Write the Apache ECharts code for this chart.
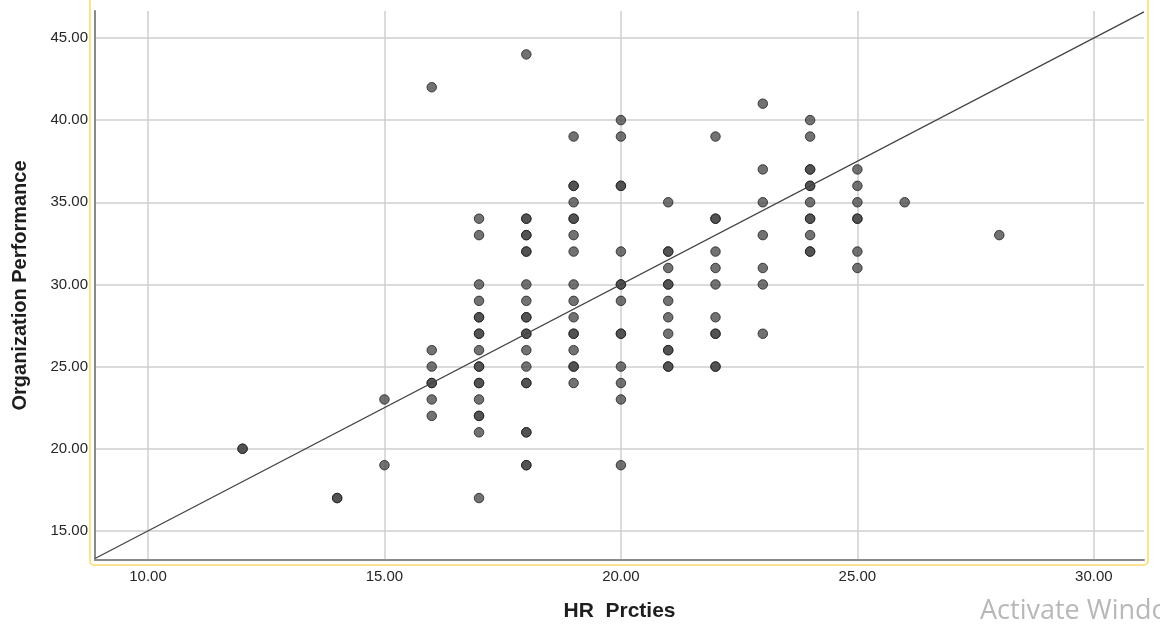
<!DOCTYPE html>
<html>
<head>
<meta charset="utf-8">
<title>Organization Performance vs HR Practices</title>
<script src="https://cdn.jsdelivr.net/npm/echarts@6/dist/echarts.min.js"></script>
<style>
  html, body { margin: 0; padding: 0; background: #fff; }
  #chart { width: 1160px; height: 625px; }
</style>
</head>
<body>
<div id="chart"></div>
<script>
// HR practices score (x) and the organization performance scores observed at it
const hrPractices = [12, 14, 15, 16, 17, 18, 19, 20, 21, 22, 23, 24, 25, 26, 28];
const performanceByHr = [
  [20, 20],
  [17, 17],
  [23, 19],
  [42, 26, 25, 24, 24, 23, 22],
  [34, 33, 30, 29, 28, 28, 27, 27, 26, 25, 25, 24, 24, 23, 22, 22, 21, 17],
  [44, 34, 34, 33, 33, 32, 32, 30, 29, 28, 28, 27, 27, 26, 25, 24, 24, 21, 21, 19, 19],
  [39, 36, 36, 35, 34, 34, 33, 32, 30, 29, 28, 27, 27, 26, 25, 25, 24],
  [40, 39, 36, 36, 32, 30, 30, 29, 27, 27, 25, 24, 23, 19],
  [35, 32, 32, 31, 30, 30, 29, 28, 27, 26, 26, 25, 25],
  [39, 34, 34, 32, 31, 30, 28, 27, 27, 25, 25],
  [41, 37, 35, 33, 31, 30, 27],
  [40, 39, 37, 37, 36, 36, 35, 34, 34, 33, 32, 32],
  [37, 36, 35, 34, 34, 32, 31],
  [35],
  [33]
];

// Axis ranges and reference line y = slope * x + intercept
const xRange = [8.88, 31.06];
const yRange = [13.23, 46.64];
const lineSlope = 1.5;
const lineIntercept = 0;

const points = [];
hrPractices.forEach((hr, i) => {
  performanceByHr[i].forEach(p => points.push([hr, p]));
});
const refLine = xRange.map(x => [x, lineSlope * x + lineIntercept]);

const fmt = v => (Math.abs(v % 5) < 1e-6 ? v.toFixed(2) : '');
const labelFont = { fontFamily: 'Liberation Sans, Arial, sans-serif', fontSize: 15, color: '#262626' };
const titleFont = { fontFamily: 'Liberation Sans, Arial, sans-serif', fontWeight: 'bold', color: '#1e1e1e' };

const chart = echarts.init(document.getElementById('chart'), null, { renderer: 'canvas' });
chart.setOption({
  animation: false,
  backgroundColor: '#fff',
  grid: { left: 95, right: 16, top: 11, bottom: 65, containLabel: false, outerBoundsMode: 'none' },
  xAxis: {
    type: 'value',
    min: xRange[0], max: xRange[1],
    minInterval: 5, maxInterval: 5,
    name: 'HR  Prcties',
    nameLocation: 'middle',
    nameGap: 41,
    nameTextStyle: Object.assign({ fontSize: 21 }, titleFont),
    axisLine: { show: true, onZero: false, lineStyle: { color: '#8a8a8a', width: 2 } },
    axisTick: { show: false },
    axisLabel: Object.assign({ formatter: fmt, margin: 9 }, labelFont),
    splitLine: { show: true, showMinLine: false, showMaxLine: false, lineStyle: { color: '#cfcfcf', width: 1.5 } }
  },
  yAxis: {
    type: 'value',
    min: yRange[0], max: yRange[1],
    minInterval: 5, maxInterval: 5,
    name: 'Organization Performance',
    nameLocation: 'middle',
    nameGap: 65,
    nameRotate: 90,
    nameTextStyle: Object.assign({ fontSize: 20 }, titleFont),
    axisLine: { show: true, onZero: false, lineStyle: { color: '#8a8a8a', width: 2 } },
    axisTick: { show: false },
    axisLabel: Object.assign({ formatter: fmt, margin: 7 }, labelFont),
    splitLine: { show: true, showMinLine: false, showMaxLine: false, lineStyle: { color: '#cfcfcf', width: 1.5 } }
  },
  series: [
    {
      type: 'scatter',
      data: points,
      symbol: 'circle',
      symbolSize: 9.5,
      itemStyle: { color: '#4a4a4a', borderColor: '#1e1e1e', borderWidth: 1, opacity: 0.78 },
      z: 3
    },
    {
      type: 'line',
      data: refLine,
      symbol: 'none',
      lineStyle: { color: '#444', width: 1.3 },
      z: 4
    }
  ],
  graphic: [
    {
      type: 'rect',
      shape: { x: 90, y: -10, width: 1058, height: 575, r: 4 },
      style: { fill: 'none', stroke: '#fbe28c', lineWidth: 2 },
      silent: true
    },
    {
      type: 'text',
      left: 980, top: 598,
      style: { text: 'Activate Windows', font: '27px "Open Sans", "Noto Sans", sans-serif', fill: '#b8b8b8' },
      silent: true
    }
  ]
});
</script>
</body>
</html>
